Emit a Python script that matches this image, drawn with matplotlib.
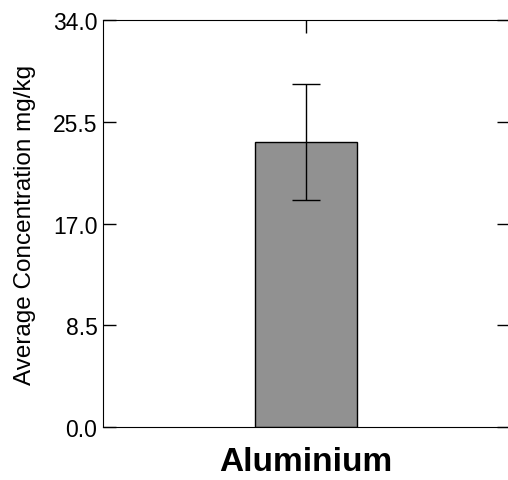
import matplotlib.pyplot as plt

plt.rcParams['font.family'] = ['Liberation Sans', 'DejaVu Sans']

categories = ["Aluminium"]
means = [23.8]
errors = [4.85]
y_ticks = [0.0, 8.5, 17.0, 25.5, 34.0]

fig = plt.figure(figsize=(5.08, 4.81), dpi=100)
ax = fig.add_axes([0.2028, 0.1102, 0.8, 0.8461])

ax.bar(range(len(categories)), means, width=0.5, color="#919191",
       edgecolor="black", linewidth=1.0, zorder=2)
ax.errorbar(range(len(categories)), means, yerr=errors, fmt="none",
            ecolor="black", elinewidth=1.0, capsize=10, capthick=1.0, zorder=3)

ax.set_xlim(-1, 1)
ax.set_ylim(0, 34)
ax.set_yticks(y_ticks)
ax.set_yticklabels([f"{v:.1f}" for v in y_ticks])
ax.set_xticks(range(len(categories)))
ax.set_xticklabels(categories, fontsize=24, fontweight="bold")

ax.tick_params(axis="y", direction="in", length=9, width=1, labelsize=16.5,
               right=True, pad=4)
ax.tick_params(axis="x", direction="in", length=9, width=1, top=True, pad=14)
ax.set_ylabel("Average Concentration mg/kg", fontsize=17.5, labelpad=12)

plt.savefig("out.png", dpi=100)
plt.close()
